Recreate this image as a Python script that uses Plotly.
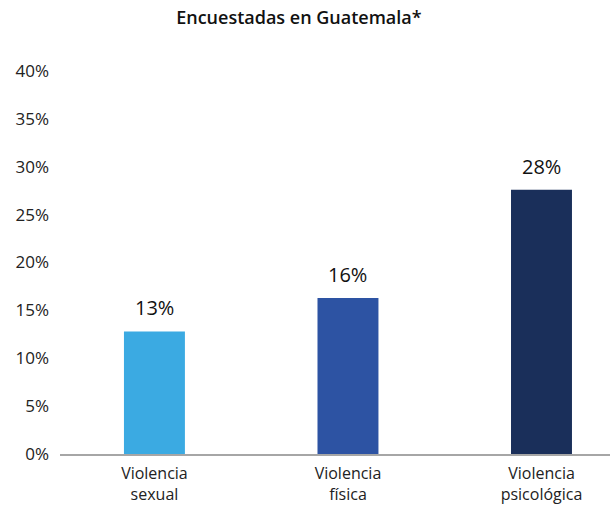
import plotly.graph_objects as go

# Survey results: share of respondents reporting each type of violence
categories = ["Violencia<br>sexual", "Violencia<br>física", "Violencia<br>psicológica"]
values = [12.8, 16.3, 27.6]
bar_colors = ["#3BAAE2", "#2D53A3", "#1A2F5A"]
y_ticks = [0, 5, 10, 15, 20, 25, 30, 35, 40]
y_tick_labels = [f"{v}%" for v in y_ticks]
value_labels = [f"{round(v)}%" for v in values]

FONT = "'Open Sans', 'Noto Sans', sans-serif"

fig = go.Figure()
fig.add_trace(go.Bar(
    x=list(range(len(categories))),
    y=values,
    marker=dict(color=bar_colors, line=dict(width=0)),
    width=0.315,
    hoverinfo="skip",
))

for i, (v, lab) in enumerate(zip(values, value_labels)):
    fig.add_annotation(
        x=i, y=v, text=lab, showarrow=False,
        yanchor="bottom", yshift=8,
        font=dict(family=FONT, size=20, color="#111111"),
    )

fig.update_layout(
    width=610, height=506,
    margin=dict(l=60, r=0, t=71, b=52),
    paper_bgcolor="white", plot_bgcolor="white",
    showlegend=False,
    title=dict(
        text="Encuestadas en Guatemala*",
        x=0.49, xanchor="center", y=0.965, yanchor="middle",
        font=dict(family=FONT, size=18, color="#111111", weight=600),
    ),
    xaxis=dict(
        range=[-0.488, 2.354],
        tickvals=list(range(len(categories))),
        ticktext=categories,
        showgrid=False, zeroline=False,
        showline=True, linecolor="#A6A6A6", linewidth=2,
        ticks="", ticklen=0, ticklabelstandoff=4,
        tickfont=dict(family=FONT, size=16, color="#222222"),
    ),
    yaxis=dict(
        range=[0, 40],
        tickvals=y_ticks, ticktext=y_tick_labels,
        showgrid=False, zeroline=False, showline=False,
        ticks="", ticklabelstandoff=10,
        tickfont=dict(family=FONT, size=17, color="#222222"),
    ),
)

fig.write_html("out.html")
